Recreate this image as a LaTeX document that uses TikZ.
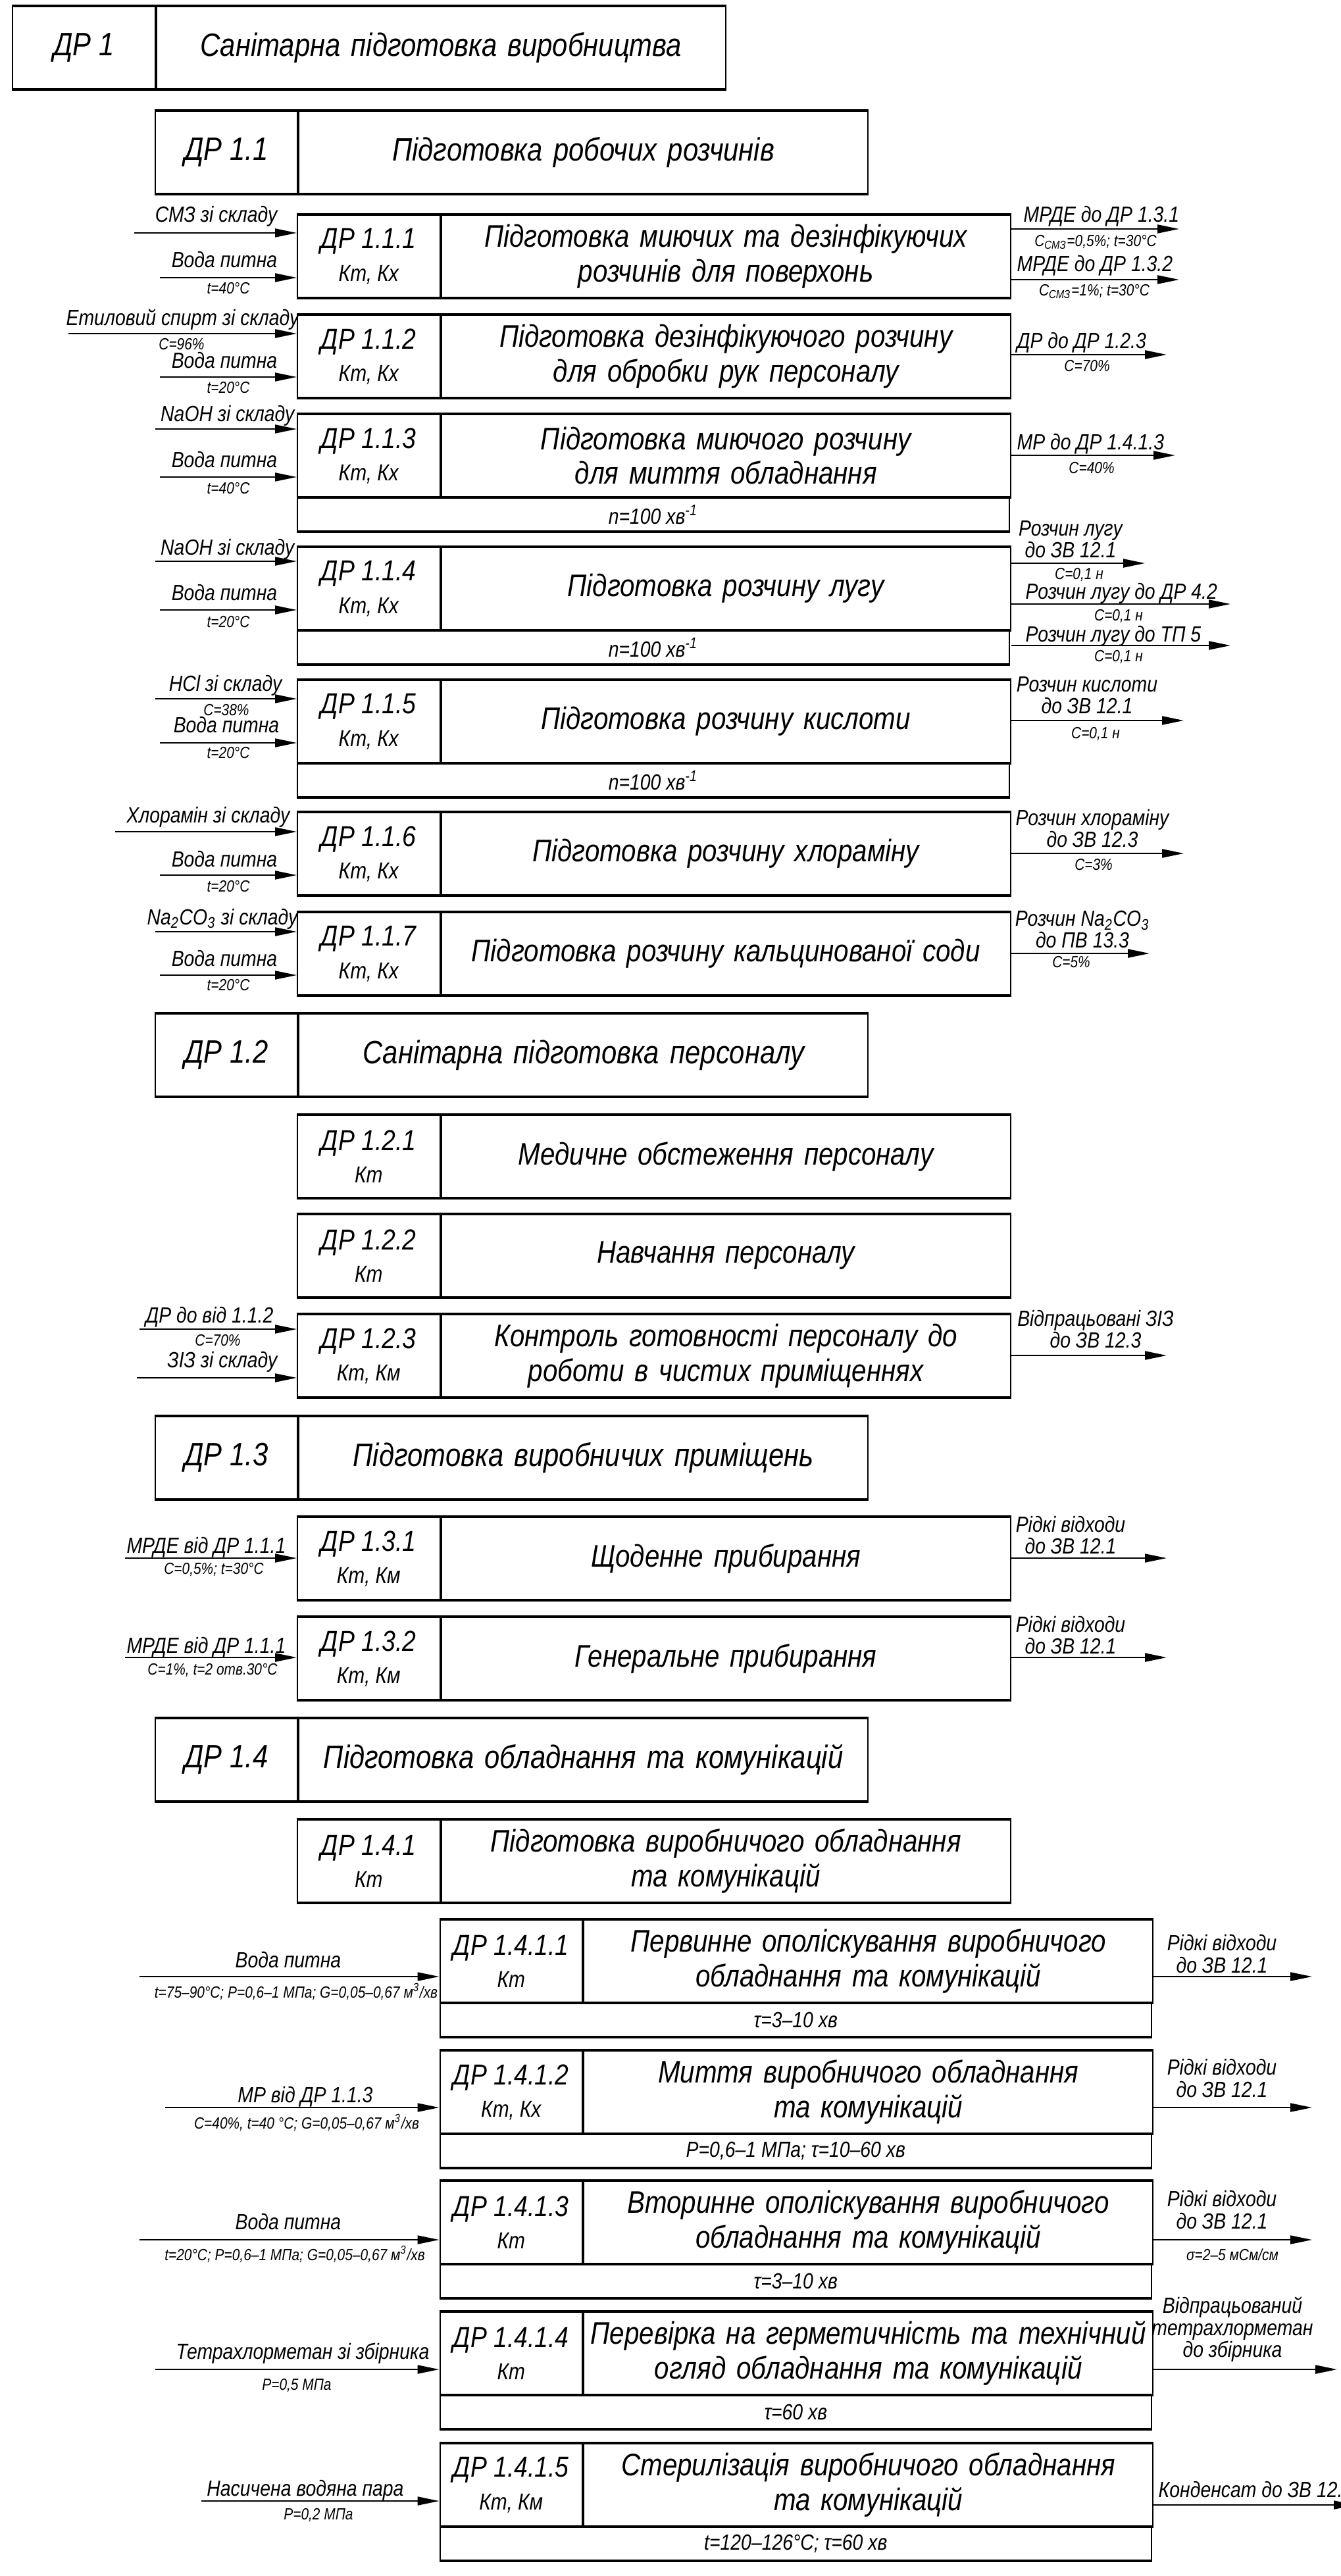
\documentclass[tikz,border=0pt]{standalone}
\usepackage{fontspec}
\setmainfont{Liberation Sans}[FakeStretch=0.85]
\usetikzlibrary{arrows.meta}
\newcommand{\fhead}{\itshape\fontsize{14}{16}\selectfont}
\newcommand{\fmain}{\itshape\fontsize{13.5}{15}\selectfont}
\newcommand{\flbl}{\itshape\fontsize{12.5}{14}\selectfont}
\newcommand{\fkt}{\itshape\fontsize{10}{12}\selectfont}
\newcommand{\fio}{\itshape\fontsize{9.5}{9.5}\selectfont}
\newcommand{\fsm}{\itshape\fontsize{7}{8}\selectfont}
\newcommand{\fsub}{\itshape\fontsize{9.5}{11}\selectfont}
\newcommand{\dpbox}[5][]{%
  \node[dlabel,anchor=north west,#1] (#2l) at (#3) {#4};
  \node[dtext,anchor=north west,#1] (#2) at (#2l.north east) {#5};
  \draw[thickline] (#2l.north west) -- (#2.north east) (#2l.south west) -- (#2.south east);}
\newcommand{\dpsub}[2]{%
  \node[dsub,anchor=north west] (#1s) at (#1l.south west) {#2};
  \draw[thickline] (#1s.south west) -- (#1s.south east);}

\begin{document}
\begin{tikzpicture}[
  dlabel/.style={draw,line width=0.6pt,minimum width=2.165cm,minimum height=1.25cm,
    inner sep=0pt,align=center,font=\flbl},
  dtext/.style={draw,line width=0.6pt,minimum width=8.65cm,minimum height=1.25cm,
    inner sep=0pt,text width=8.6cm,align=center,font=\fmain},
  dsub/.style={draw,line width=0.6pt,minimum width=10.815cm,minimum height=0.5cm,
    inner sep=0pt,font=\fsub},
  head/.style={font=\fhead},
  thickline/.style={line width=1.2pt},
  arrow/.style={-{Triangle[length=3.3mm,width=1.3mm]},line width=0.6pt},
  inlbl/.style={font=\fio,inner sep=0pt,align=center},
  param/.style={font=\fsm,inner sep=0pt}
]
\useasboundingbox (0,0) rectangle (20.37,-39.15);

\dpbox[head]{b1}{0.18,-0.09}{ДР 1}{Санітарна підготовка виробництва}
\dpbox[head]{b11}{2.345,-1.68}{ДР 1.1}{Підготовка робочих розчинів}
\dpbox{b111}{4.51,-3.26}{ДР 1.1.1\\{\fkt Кт, Кх}}{Підготовка миючих та дезінфікуючих\\розчинів для поверхонь}
\dpbox{b112}{4.51,-4.78}{ДР 1.1.2\\{\fkt Кт, Кх}}{Підготовка дезінфікуючого розчину\\для обробки рук персоналу}
\dpbox{b113}{4.51,-6.29}{ДР 1.1.3\\{\fkt Кт, Кх}}{Підготовка миючого розчину\\для миття обладнання}
\dpsub{b113}{n=100 хв\textsuperscript{-1}}
\dpbox{b114}{4.51,-8.31}{ДР 1.1.4\\{\fkt Кт, Кх}}{Підготовка розчину лугу}
\dpsub{b114}{n=100 хв\textsuperscript{-1}}
\dpbox{b115}{4.51,-10.33}{ДР 1.1.5\\{\fkt Кт, Кх}}{Підготовка розчину кислоти}
\dpsub{b115}{n=100 хв\textsuperscript{-1}}
\dpbox{b116}{4.51,-12.34}{ДР 1.1.6\\{\fkt Кт, Кх}}{Підготовка розчину хлораміну}
\dpbox{b117}{4.51,-13.86}{ДР 1.1.7\\{\fkt Кт, Кх}}{Підготовка розчину кальцинованої соди}
\dpbox[head]{b12}{2.345,-15.40}{ДР 1.2}{Санітарна підготовка персоналу}
\dpbox{b121}{4.51,-16.94}{ДР 1.2.1\\{\fkt Кт}}{Медичне обстеження персоналу}
\dpbox{b122}{4.51,-18.45}{ДР 1.2.2\\{\fkt Кт}}{Навчання персоналу}
\dpbox{b123}{4.51,-19.97}{ДР 1.2.3\\{\fkt Кт, Км}}{Контроль готовності персоналу до\\роботи в чистих приміщеннях}
\dpbox[head]{b13}{2.345,-21.52}{ДР 1.3}{Підготовка виробничих приміщень}
\dpbox{b131}{4.51,-23.05}{ДР 1.3.1\\{\fkt Кт, Км}}{Щоденне прибирання}
\dpbox{b132}{4.51,-24.57}{ДР 1.3.2\\{\fkt Кт, Км}}{Генеральне прибирання}
\dpbox[head]{b14}{2.345,-26.11}{ДР 1.4}{Підготовка обладнання та комунікацій}
\dpbox{b141}{4.51,-27.65}{ДР 1.4.1\\{\fkt Кт}}{Підготовка виробничого обладнання\\та комунікацій}
\dpbox{b1411}{6.675,-29.17}{ДР 1.4.1.1\\{\fkt Кт}}{Первинне ополіскування виробничого\\обладнання та комунікацій}
\dpsub{b1411}{τ=3–10 хв}
\dpbox{b1412}{6.675,-31.16}{ДР 1.4.1.2\\{\fkt Кт, Кх}}{Миття виробничого обладнання\\та комунікацій}
\dpsub{b1412}{P=0,6–1 МПа; τ=10–60 хв}
\dpbox{b1413}{6.675,-33.14}{ДР 1.4.1.3\\{\fkt Кт}}{Вторинне ополіскування виробничого\\обладнання та комунікацій}
\dpsub{b1413}{τ=3–10 хв}
\dpbox{b1414}{6.675,-35.13}{ДР 1.4.1.4\\{\fkt Кт}}{Перевірка на герметичність та технічний\\огляд обладнання та комунікацій}
\dpsub{b1414}{τ=60 хв}
\dpbox{b1415}{6.675,-37.13}{ДР 1.4.1.5\\{\fkt Кт, Км}}{Стерилізація виробничого обладнання\\та комунікацій}
\dpsub{b1415}{t=120–126°С; τ=60 хв}

% 1.1.1
\coordinate (i111a) at (2.04,-3.54);
\coordinate (i111b) at (2.43,-4.22);
\coordinate (o111a) at (17.92,-3.48);
\coordinate (o111b) at (17.92,-4.25);
\draw[arrow] (i111a) -- (i111a -| b111l.west);
\draw[arrow] (i111b) -- (i111b -| b111l.west);
\draw[arrow] (o111a -| b111.east) -- (o111a);
\draw[arrow] (o111b -| b111.east) -- (o111b);
\node[inlbl,anchor=base east] (n111a) at (4.22,-3.38) {СМЗ зі складу};
\node[inlbl,anchor=base east] (n111b) at (4.22,-4.07) {Вода питна};
\node[param,anchor=north] (p111b) at (3.47,-4.29) {t=40°С};
\node[inlbl,anchor=base west] (m111a) at (15.55,-3.38) {МРДЕ до ДР 1.3.1};
\node[param,anchor=north] (q111a) at (16.65,-3.57) {C\textsubscript{СМЗ}=0,5\%; t=30°С};
\node[inlbl,anchor=base west] (m111b) at (15.45,-4.13) {МРДЕ до ДР 1.3.2};
\node[param,anchor=north] (q111b) at (16.63,-4.32) {C\textsubscript{СМЗ}=1\%; t=30°С};

% 1.1.2
\coordinate (i112a) at (1.04,-5.07);
\coordinate (i112b) at (2.43,-5.73);
\coordinate (o112) at (17.73,-5.39);
\draw[arrow] (i112a) -- (i112a -| b112l.west);
\draw[arrow] (i112b) -- (i112b -| b112l.west);
\draw[arrow] (o112 -| b112.east) -- (o112);
\node[inlbl,anchor=base east] (n112a) at (4.55,-4.95) {Етиловий спирт зі складу};
\node[param,anchor=north] (p112a) at (2.76,-5.14) {С=96\%};
\node[inlbl,anchor=base east] (n112b) at (4.22,-5.60) {Вода питна};
\node[param,anchor=north] (p112b) at (3.47,-5.80) {t=20°С};
\node[inlbl,anchor=base west] (m112) at (15.45,-5.30) {ДР до ДР 1.2.3};
\node[param,anchor=north] (q112) at (16.52,-5.47) {С=70\%};

% 1.1.3
\coordinate (i113a) at (2.36,-6.52);
\coordinate (i113b) at (2.43,-7.25);
\coordinate (o113) at (17.86,-6.92);
\draw[arrow] (i113a) -- (i113a -| b113l.west);
\draw[arrow] (i113b) -- (i113b -| b113l.west);
\draw[arrow] (o113 -| b113.east) -- (o113);
\node[inlbl,anchor=base east] (n113a) at (4.48,-6.41) {NaOH зі складу};
\node[inlbl,anchor=base east] (n113b) at (4.22,-7.10) {Вода питна};
\node[param,anchor=north] (p113b) at (3.47,-7.33) {t=40°С};
\node[inlbl,anchor=base west] (m113) at (15.45,-6.83) {МР до ДР 1.4.1.3};
\node[param,anchor=north] (q113) at (16.59,-7.02) {С=40\%};

% 1.1.4
\coordinate (i114a) at (2.36,-8.53);
\coordinate (i114b) at (2.43,-9.27);
\coordinate (o114a) at (17.40,-8.56);
\coordinate (o114b) at (18.70,-9.18);
\coordinate (o114c) at (18.70,-9.81);
\draw[arrow] (i114a) -- (i114a -| b114l.west);
\draw[arrow] (i114b) -- (i114b -| b114l.west);
\draw[arrow] (o114a -| b114.east) -- (o114a);
\draw[arrow] (o114b -| b114.east) -- (o114b);
\draw[arrow] (o114c -| b114.east) -- (o114c);
\node[inlbl,anchor=base east] (n114a) at (4.48,-8.43) {NaOH зі складу};
\node[inlbl,anchor=base east] (n114b) at (4.22,-9.12) {Вода питна};
\node[param,anchor=north] (p114b) at (3.47,-9.36) {t=20°С};
\node[inlbl,anchor=south] (m114a) at (16.27,-8.49) {Розчин лугу\\до ЗВ 12.1};
\node[param,anchor=north] (q114a) at (16.40,-8.63) {С=0,1 н};
\node[inlbl,anchor=base west] (m114b) at (15.58,-9.10) {Розчин лугу до ДР 4.2};
\node[param,anchor=north] (q114b) at (17.00,-9.26) {С=0,1 н};
\node[inlbl,anchor=base west] (m114c) at (15.58,-9.75) {Розчин лугу до ТП 5};
\node[param,anchor=north] (q114c) at (17.00,-9.88) {С=0,1 н};

% 1.1.5
\coordinate (i115a) at (2.36,-10.62);
\coordinate (i115b) at (2.43,-11.29);
\coordinate (o115) at (17.99,-10.95);
\draw[arrow] (i115a) -- (i115a -| b115l.west);
\draw[arrow] (i115b) -- (i115b -| b115l.west);
\draw[arrow] (o115 -| b115.east) -- (o115);
\node[inlbl,anchor=base east] (n115a) at (4.29,-10.50) {HCl зі складу};
\node[param,anchor=north] (p115a) at (3.44,-10.70) {С=38\%};
\node[inlbl,anchor=base east] (n115b) at (4.25,-11.13) {Вода питна};
\node[param,anchor=north] (p115b) at (3.47,-11.35) {t=20°С};
\node[inlbl,anchor=south] (m115) at (16.52,-10.86) {Розчин кислоти\\до ЗВ 12.1};
\node[param,anchor=north] (q115) at (16.65,-11.05) {С=0,1 н};

% 1.1.6
\coordinate (i116a) at (1.75,-12.64);
\coordinate (i116b) at (2.43,-13.30);
\coordinate (o116) at (17.99,-12.97);
\draw[arrow] (i116a) -- (i116a -| b116l.west);
\draw[arrow] (i116b) -- (i116b -| b116l.west);
\draw[arrow] (o116 -| b116.east) -- (o116);
\node[inlbl,anchor=base east] (n116a) at (4.41,-12.50) {Хлорамін зі складу};
\node[inlbl,anchor=base east] (n116b) at (4.22,-13.17) {Вода питна};
\node[param,anchor=north] (p116b) at (3.47,-13.38) {t=20°С};
\node[inlbl,anchor=south] (m116) at (16.60,-12.89) {Розчин хлораміну\\до ЗВ 12.3};
\node[param,anchor=north] (q116) at (16.62,-13.05) {С=3\%};

% 1.1.7
\coordinate (i117a) at (2.36,-14.16);
\coordinate (i117b) at (2.43,-14.82);
\coordinate (o117) at (17.47,-14.49);
\draw[arrow] (i117a) -- (i117a -| b117l.west);
\draw[arrow] (i117b) -- (i117b -| b117l.west);
\draw[arrow] (o117 -| b117.east) -- (o117);
\node[inlbl,anchor=base east] (n117a) at (4.53,-14.05) {Na\textsubscript{2}CO\textsubscript{3} зі складу};
\node[inlbl,anchor=base east] (n117b) at (4.22,-14.68) {Вода питна};
\node[param,anchor=north] (p117b) at (3.47,-14.88) {t=20°С};
\node[inlbl,anchor=south] (m117) at (16.45,-14.42) {Розчин Na\textsubscript{2}CO\textsubscript{3}\\до ПВ 13.3};
\node[param,anchor=north] (q117) at (16.28,-14.53) {С=5\%};

% 1.2.3
\coordinate (i123a) at (2.12,-20.20);
\coordinate (i123b) at (2.08,-20.94);
\coordinate (o123) at (17.73,-20.60);
\draw[arrow] (i123a) -- (i123a -| b123l.west);
\draw[arrow] (i123b) -- (i123b -| b123l.west);
\draw[arrow] (o123 -| b123.east) -- (o123);
\node[inlbl,anchor=base east] (n123a) at (4.16,-20.10) {ДР до від 1.1.2};
\node[param,anchor=north] (p123a) at (3.31,-20.28) {С=70\%};
\node[inlbl,anchor=base east] (n123b) at (4.22,-20.78) {ЗІЗ зі складу};
\node[inlbl,anchor=south] (m123) at (16.65,-20.50) {Відпрацьовані ЗІЗ\\до ЗВ 12.3};

% 1.3.1, 1.3.2
\coordinate (i131) at (1.90,-23.68);
\coordinate (o131) at (17.73,-23.68);
\draw[arrow] (i131) -- (i131 -| b131l.west);
\draw[arrow] (o131 -| b131.east) -- (o131);
\node[inlbl,anchor=base east] (n131) at (4.35,-23.60) {МРДЕ від ДР 1.1.1};
\node[param,anchor=north] (p131) at (3.25,-23.75) {С=0,5\%; t=30°С};
\node[inlbl,anchor=south] (m131) at (16.27,-23.63) {Рідкі відходи\\до ЗВ 12.1};
\coordinate (i132) at (1.90,-25.19);
\coordinate (o132) at (17.73,-25.19);
\draw[arrow] (i132) -- (i132 -| b132l.west);
\draw[arrow] (o132 -| b132.east) -- (o132);
\node[inlbl,anchor=base east] (n132) at (4.35,-25.12) {МРДЕ від ДР 1.1.1};
\node[param,anchor=north] (p132) at (3.23,-25.28) {С=1\%, t=2 отв.30°С};
\node[inlbl,anchor=south] (m132) at (16.27,-25.15) {Рідкі відходи\\до ЗВ 12.1};

% 1.4.1.x
\coordinate (i1411) at (2.12,-30.04);
\coordinate (o1411) at (19.94,-30.04);
\draw[arrow] (i1411) -- (i1411 -| b1411l.west);
\draw[arrow] (o1411 -| b1411.east) -- (o1411);
\node[inlbl,anchor=base] (n1411) at (4.38,-29.90) {Вода питна};
\node[param,anchor=north] (p1411) at (4.50,-30.13) {t=75–90°С; P=0,6–1 МПа; G=0,05–0,67 м\textsuperscript{3}/хв};
\node[inlbl,anchor=south] (m1411) at (18.57,-29.99) {Рідкі відходи\\до ЗВ 12.1};

\coordinate (i1412) at (2.51,-32.03);
\coordinate (o1412) at (19.94,-32.03);
\draw[arrow] (i1412) -- (i1412 -| b1412l.west);
\draw[arrow] (o1412 -| b1412.east) -- (o1412);
\node[inlbl,anchor=base] (n1412) at (4.64,-31.95) {МР від ДР 1.1.3};
\node[param,anchor=north] (p1412) at (4.66,-32.12) {С=40\%, t=40 °С; G=0,05–0,67 м\textsuperscript{3}/хв};
\node[inlbl,anchor=south] (m1412) at (18.57,-31.88) {Рідкі відходи\\до ЗВ 12.1};

\coordinate (i1413) at (2.12,-34.04);
\coordinate (o1413) at (19.94,-34.04);
\draw[arrow] (i1413) -- (i1413 -| b1413l.west);
\draw[arrow] (o1413 -| b1413.east) -- (o1413);
\node[inlbl,anchor=base] (n1413) at (4.38,-33.88) {Вода питна};
\node[param,anchor=north] (p1413) at (4.48,-34.12) {t=20°С; P=0,6–1 МПа; G=0,05–0,67 м\textsuperscript{3}/хв};
\node[inlbl,anchor=south] (m1413) at (18.57,-33.88) {Рідкі відходи\\до ЗВ 12.1};
\node[param,anchor=north] (q1413) at (18.73,-34.17) {σ=2–5 мСм/см};

\coordinate (i1414) at (2.36,-36.01);
\coordinate (o1414) at (20.32,-36.01);
\draw[arrow] (i1414) -- (i1414 -| b1414l.west);
\draw[arrow] (o1414 -| b1414.east) -- (o1414);
\node[inlbl,anchor=base] (n1414) at (4.60,-35.85) {Тетрахлорметан зі збірника};
\node[param,anchor=north] (p1414) at (4.51,-36.15) {P=0,5 МПа};
\node[inlbl,anchor=south] (m1414) at (18.73,-35.90) {Відпрацьований\\тетрахлорметан\\до збірника};

\coordinate (i1415) at (3.06,-38.01);
\coordinate (o1415) at (20.60,-38.07);
\draw[arrow] (i1415) -- (i1415 -| b1415l.west);
\draw[arrow] (o1415 -| b1415.east) -- (o1415);
\node[inlbl,anchor=base] (n1415) at (4.64,-37.93) {Насичена водяна пара};
\node[param,anchor=north] (p1415) at (4.84,-38.12) {P=0,2 МПа};
\node[inlbl,anchor=base west] (m1415) at (17.60,-37.95) {Конденсат до ЗВ 12.1};
\end{tikzpicture}
\end{document}
